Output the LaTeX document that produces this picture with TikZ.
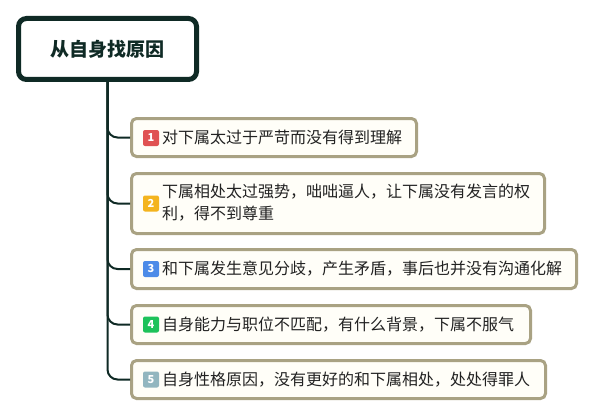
\documentclass[tikz,border=0pt]{standalone}
\usepackage{fontspec}
\setmainfont{Noto Sans CJK SC}
\begin{document}
\begin{tikzpicture}[x=1pt,y=-1pt,
  titlebox/.style={draw=darkt,line width=5pt,rounded corners=8pt,fill=white,minimum width=178pt,minimum height=61pt,inner sep=0pt,font=\fontsize{19}{22}\selectfont\bfseries,text=darkt},
  itembox/.style={draw=olive2,line width=3pt,rounded corners=5pt,fill=cream,inner sep=0pt},
  badge/.style={rounded corners=2pt,minimum size=16pt,inner sep=0pt,text=white,font=\fontsize{11}{11}\selectfont\bfseries},
  itemtext/.style={anchor=west,inner sep=0pt,text=txt,font=\fontsize{16}{22}\selectfont,align=left},
  conn/.style={draw=darkt,line width=2pt,rounded corners=10pt}]
\definecolor{darkt}{HTML}{0F2A25}
\definecolor{olive2}{HTML}{A9A283}
\definecolor{cream}{HTML}{FFFEF8}
\definecolor{txt}{HTML}{222222}
\definecolor{c1}{HTML}{E05252}
\definecolor{c2}{HTML}{F4B41E}
\definecolor{c3}{HTML}{4C8BE8}
\definecolor{c4}{HTML}{1DC25A}
\definecolor{c5}{HTML}{92B6BF}
\path[fill=white] (0,0) rectangle (596,417);
\useasboundingbox (0,0) rectangle (596,417);

\node[itembox,minimum width=285pt,minimum height=38pt] (b1) at (274,137.5) {};
\node[itembox,minimum width=413pt,minimum height=60pt] (b2) at (338,203.5) {};
\node[itembox,minimum width=445pt,minimum height=39pt] (b3) at (354,269) {};
\node[itembox,minimum width=399pt,minimum height=38pt] (b4) at (331,324.5) {};
\node[itembox,minimum width=414pt,minimum height=38pt] (b5) at (338.5,379.5) {};

\node[titlebox] (t) at (107.5,49) {从自身找原因};

\foreach \i in {1,...,5} {
  \draw[conn] (t.south) |- (b\i.west);
}

\node[badge,fill=c1] (n1) at (151,138) {1};
\node[badge,fill=c2] (n2) at (151,203.5) {2};
\node[badge,fill=c3] (n3) at (151,269) {3};
\node[badge,fill=c4] (n4) at (151,324.5) {4};
\node[badge,fill=c5] (n5) at (151,379.5) {5};

\node[itemtext] (x1) at (162,137.5) {对下属太过于严苛而没有得到理解};
\node[itemtext] (x2) at (162,202.5) {下属相处太过强势，咄咄逼人，让下属没有发言的权\\利，得不到尊重};
\node[itemtext] (x3) at (162,269) {和下属发生意见分歧，产生矛盾，事后也并没有沟通化解};
\node[itemtext] (x4) at (162,324.5) {自身能力与职位不匹配，有什么背景，下属不服气};
\node[itemtext] (x5) at (162,379.5) {自身性格原因，没有更好的和下属相处，处处得罪人};
\end{tikzpicture}
\end{document}
